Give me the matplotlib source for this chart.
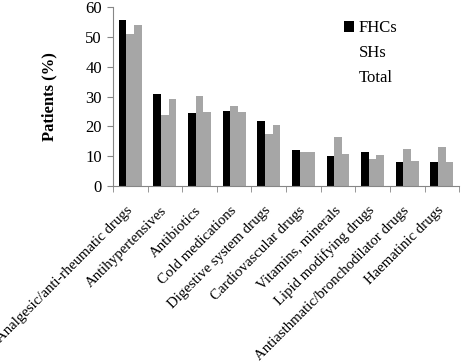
import numpy as np
import matplotlib
matplotlib.use("Agg")
import matplotlib.pyplot as plt

categories = [
    "Analgesic/anti-rheumatic drugs", "Antihypertensives", "Antibiotics",
    "Cold medications", "Digestive system drugs", "Cardiovascular drugs",
    "Vitamins, minerals", "Lipid modifying drugs",
    "Antiasthmatic/bronchodilator drugs", "Haematinic drugs",
]
fhcs = [55.6, 31.0, 24.4, 25.3, 21.9, 12.2, 10.1, 11.6, 8.2, 8.0]
shs = [50.8, 23.7, 30.3, 26.9, 17.6, 11.4, 16.6, 9.2, 12.4, 13.0]
total = [54.1, 29.1, 24.9, 24.9, 20.6, 11.4, 10.7, 10.4, 8.4, 8.2]

plt.rcParams["font.family"] = ["Liberation Serif", "DejaVu Serif"]
plt.rcParams["font.size"] = 12

fig = plt.figure(figsize=(4.61, 3.63), dpi=100)
ax = fig.add_axes([0.245, 0.487, 0.751, 0.494])

x = np.arange(len(categories))
w = 0.22
ax.bar(x - w, fhcs, w, color="black", label="FHCs")
ax.bar(x, shs, w, color="#a6a6a6", label="SHs")
ax.bar(x + w, total, w, color="#a6a6a6", label="Total")

ax.set_xlim(-0.5, len(categories) - 0.5)
ax.set_ylim(0, 60)
ax.set_yticks(range(0, 61, 10))
ax.set_ylabel("Patients (%)", fontweight="bold", labelpad=20)

ax.set_xticks(x)
ax.set_xticklabels(categories, rotation=45, ha="right", va="center",
                   rotation_mode="anchor", fontsize=10.7)
ax.tick_params(axis="x", length=0, pad=16)
ax.set_xticks(np.arange(len(categories) + 1) - 0.5, minor=True)
ax.tick_params(axis="x", which="minor", length=4, color="#868686")
ax.tick_params(axis="y", length=4, color="#868686", pad=4)

for s in ["top", "right"]:
    ax.spines[s].set_visible(False)
for s in ["left", "bottom"]:
    ax.spines[s].set_color("#868686")

leg = ax.legend(loc="upper right", bbox_to_anchor=(0.865, 1.01), frameon=False,
                handlelength=0.6, handleheight=0.6, handletextpad=0.3,
                labelspacing=0.55)
leg.legend_handles[1].set_visible(False)
leg.legend_handles[2].set_visible(False)

fig.savefig("out.png", dpi=100)
